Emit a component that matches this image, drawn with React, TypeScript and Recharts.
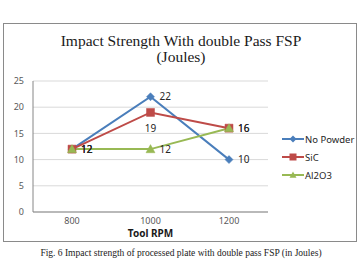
import { LineChart, Line, XAxis, YAxis, CartesianGrid, LabelList } from 'recharts';

// Tool speed (RPM) categories and impact strength in Joules
const rpm = ['800', '1000', '1200'];
const noPowder = [12, 22, 10];
const sic = [12, 19, 16];
const al2o3 = [12, 12, 16];
const yTicks = [0, 5, 10, 15, 20, 25];

const BLUE = '#4A7EBB';
const RED = '#BE4B48';
const GREEN = '#98B954';

const data = rpm.map((r, i) => ({ rpm: r, noPowder: noPowder[i], sic: sic[i], al2o3: al2o3[i] }));

type Marker = 'diamond' | 'square' | 'triangle';

function markerPath(kind: Marker, cx: number, cy: number, r: number) {
  if (kind === 'diamond') return `M${cx},${cy - r}L${cx + r},${cy}L${cx},${cy + r}L${cx - r},${cy}Z`;
  if (kind === 'square') return `M${cx - r},${cy - r}H${cx + r}V${cy + r}H${cx - r}Z`;
  return `M${cx},${cy - r}L${cx + r},${cy + r * 0.8}L${cx - r},${cy + r * 0.8}Z`;
}

const makeDot = (kind: Marker, color: string, r: number) => (props: any) => {
  const { cx, cy, index } = props;
  if (cx == null || cy == null) return <g key={index} />;
  return <path key={index} d={markerPath(kind, cx, cy, r)} fill={color} stroke={color} strokeWidth={0.5} />;
};

// value label: right of the point, or below for the listed indexes
const makeLabel = (below: number[] = []) => (props: any) => {
  const { x, y, value, index } = props;
  const under = below.includes(index);
  return (
    <text
      x={under ? x : x + 9}
      y={under ? y + 16 : y}
      dy="0.35em"
      textAnchor={under ? 'middle' : 'start'}
      fontSize={10}
      fontFamily="Noto Sans, sans-serif"
      fill="#262626"
    >
      {value}
    </text>
  );
};

const series = [
  { key: 'noPowder', name: 'No Powder', color: BLUE, marker: 'diamond' as Marker, r: 4, below: [] as number[] },
  { key: 'sic', name: 'SiC', color: RED, marker: 'square' as Marker, r: 4, below: [1] },
  { key: 'al2o3', name: 'Al2O3', color: GREEN, marker: 'triangle' as Marker, r: 4.5, below: [] as number[] },
];

const LegendBox = () => (
  <div
    style={{
      position: 'absolute',
      left: 282,
      top: 130,
      fontFamily: 'Noto Sans, sans-serif',
      fontSize: 9.5,
      color: '#262626',
    }}
  >
    {series.map((s) => (
      <div key={s.key} style={{ display: 'flex', alignItems: 'center', height: 18 }}>
        <svg width={22} height={10} style={{ marginRight: 1 }}>
          <line x1={0} y1={5} x2={22} y2={5} stroke={s.color} strokeWidth={2} />
          <path d={markerPath(s.marker, 11, 5, 3.5)} fill={s.color} />
        </svg>
        <span>{s.name}</span>
      </div>
    ))}
  </div>
);

export default function App() {
  return (
    <div style={{ position: 'fixed', left: 0, top: 0, width: 362, height: 272, background: '#fff' }}>
      <div
        style={{
          position: 'absolute',
          left: 3,
          top: 23,
          width: 352,
          height: 217,
          border: '1px solid #8a8a8a',
        }}
      />
      <div
        style={{
          position: 'absolute',
          left: 0,
          top: 33,
          width: 362,
          textAlign: 'center',
          fontFamily: 'Liberation Serif, serif',
          fontSize: 15.5,
          lineHeight: '16px',
          color: '#1a1a1a',
        }}
      >
        Impact Strength With double Pass FSP
        <br />
        (Joules)
      </div>
      <div style={{ position: 'absolute', left: 0, top: 0 }}>
        <LineChart width={362} height={272} data={data} margin={{ top: 81, right: 94, bottom: 30, left: 0 }}>
          <CartesianGrid vertical={false} stroke="#d9d9d9" />
          <XAxis
            dataKey="rpm"
            height={30}
            padding={{ left: 39, right: 39 }}
            stroke="#868686"
            tickLine={false}
            tickSize={0}
            tickMargin={6}
            tick={{ fontSize: 9, fill: '#595959', fontFamily: 'Noto Sans, sans-serif' }}
            label={{
              value: 'Tool RPM',
              position: 'insideBottom',
              offset: 5,
              style: { fontSize: 10, fontWeight: 700, fill: '#1a1a1a', fontFamily: 'Noto Sans, sans-serif' },
            }}
          />
          <YAxis
            width={33}
            domain={[0, 25]}
            ticks={yTicks}
            stroke="#868686"
            tickLine={false}
            tickSize={0}
            tickMargin={9}
            tick={{ fontSize: 9, fill: '#595959', fontFamily: 'Noto Sans, sans-serif' }}
          />
          {series.map((s) => (
            <Line
              key={s.key}
              dataKey={s.key}
              name={s.name}
              type="linear"
              stroke={s.color}
              strokeWidth={2}
              dot={makeDot(s.marker, s.color, s.r)}
              activeDot={false}
              isAnimationActive={false}
            >
              <LabelList dataKey={s.key} content={makeLabel(s.below)} />
            </Line>
          ))}
        </LineChart>
      </div>
      <LegendBox />
      <div
        style={{
          position: 'absolute',
          left: 0,
          top: 248,
          width: 362,
          textAlign: 'center',
          fontFamily: 'Liberation Serif, serif',
          fontSize: 9.5,
          color: '#1a1a1a',
        }}
      >
        Fig. 6 Impact strength of processed plate with double pass FSP (in Joules)
      </div>
    </div>
  );
}
